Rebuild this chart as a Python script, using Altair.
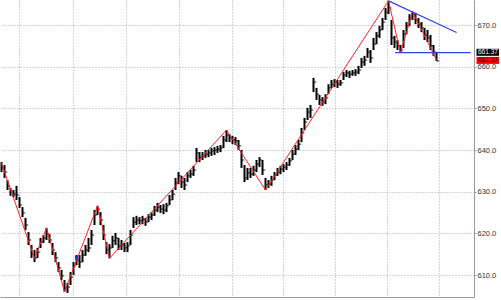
import altair as alt
import pandas as pd

# OHLC-style bars (high / low / close)
high = [637.1, 636.4, 632.8, 630.9, 630.4, 631.4, 628.7, 626.3, 623.7, 620.3,
        617.2, 616.0, 616.5, 618.9, 619.6, 621.3, 619.8, 617.7, 615.5, 613.1,
        611.2, 608.8, 608.1, 610.7, 613.1, 614.8, 614.8, 616.0, 617.2, 618.9,
        620.8, 625.6, 626.6, 625.1, 622.0, 617.9, 617.4, 619.4, 620.1, 618.9,
        618.4, 617.7, 617.9, 620.8, 623.9, 624.2, 623.9, 624.2, 623.7, 624.6,
        625.1, 626.6, 627.3, 626.8, 627.0, 627.3, 629.2, 630.4, 633.3, 634.7,
        633.8, 633.3, 634.7, 635.2, 636.2, 640.5, 639.5, 639.5, 640.0, 640.0,
        640.5, 640.7, 641.0, 641.2, 643.4, 644.8, 643.8, 643.4, 643.1, 642.4,
        640.0, 636.4, 635.7, 635.7, 636.2, 637.6, 638.3, 637.6, 633.3, 632.8,
        633.8, 634.7, 635.7, 636.2, 636.6, 637.1, 638.1, 640.0, 641.2, 642.4,
        645.3, 647.7, 650.1, 650.8, 657.3, 654.9, 653.2, 652.7, 653.4, 655.8,
        656.8, 657.0, 656.8, 656.8, 658.7, 659.2, 659.0, 659.2, 659.4, 660.2,
        662.1, 662.6, 664.5, 664.0, 666.9, 668.3, 669.8, 671.7, 674.1, 675.8,
        671.2, 667.4, 666.4, 665.2, 668.8, 670.7, 672.6, 673.2, 672.9, 671.7,
        670.7, 669.3, 668.8, 667.6, 665.2, 663.5]
low = [634.7, 633.3, 630.4, 629.0, 628.7, 628.0, 626.1, 623.9, 620.8, 617.2,
       614.1, 613.1, 614.1, 616.5, 617.7, 618.4, 617.7, 614.8, 613.1, 610.7,
       608.8, 606.0, 605.7, 607.6, 610.0, 612.4, 611.7, 613.1, 614.6, 615.5,
       617.2, 622.0, 624.4, 622.0, 618.4, 615.0, 614.0, 616.5, 617.2, 616.0,
       616.0, 615.5, 615.5, 617.2, 621.3, 622.0, 622.2, 622.2, 621.8, 622.7,
       623.2, 624.2, 625.1, 624.9, 624.6, 625.1, 626.8, 628.0, 630.4, 631.8,
       630.9, 630.4, 632.3, 633.3, 633.8, 637.1, 637.1, 637.6, 638.1, 638.3,
       638.6, 638.8, 639.3, 639.5, 640.5, 641.9, 641.9, 641.4, 641.2, 640.0,
       635.7, 632.3, 632.8, 633.3, 633.8, 634.7, 635.9, 634.0, 630.4, 630.9,
       631.4, 632.8, 633.8, 634.2, 634.7, 635.2, 636.2, 637.6, 638.8, 640.0,
       641.9, 644.8, 647.2, 647.7, 653.9, 652.0, 650.8, 650.6, 651.0, 653.4,
       654.9, 655.1, 654.9, 655.4, 656.8, 657.5, 657.3, 657.8, 657.8, 658.2,
       659.7, 660.2, 662.1, 660.9, 664.0, 665.4, 666.9, 668.8, 671.2, 672.6,
       665.2, 664.5, 664.0, 663.3, 664.5, 667.8, 669.8, 671.2, 670.2, 669.3,
       668.3, 666.4, 665.9, 664.0, 662.6, 661.37]
close = [635.7, 634.7, 631.4, 629.9, 629.4, 629.2, 626.8, 624.9, 622.0, 618.4,
         615.0, 614.1, 615.5, 617.9, 618.9, 619.8, 618.4, 616.0, 614.1, 611.7,
         609.8, 606.9, 607.1, 609.5, 612.2, 613.6, 613.1, 614.8, 616.0, 616.5,
         619.6, 624.4, 625.8, 623.2, 619.6, 616.0, 616.5, 618.2, 618.9, 617.0,
         617.2, 616.5, 617.0, 619.6, 622.7, 623.2, 623.0, 623.4, 622.7, 623.9,
         624.4, 625.6, 626.3, 625.8, 625.6, 626.6, 628.0, 629.4, 632.1, 633.8,
         632.3, 631.6, 633.8, 634.2, 635.2, 639.3, 638.3, 638.6, 639.0, 639.3,
         639.8, 640.0, 640.2, 640.5, 642.4, 643.6, 642.9, 642.4, 642.2, 641.0,
         637.6, 633.3, 634.5, 634.2, 635.2, 636.6, 637.6, 635.2, 631.6, 631.8,
         632.8, 634.0, 634.7, 635.4, 635.9, 636.4, 637.4, 639.0, 640.2, 641.4,
         644.1, 646.7, 649.1, 649.6, 656.3, 653.4, 652.0, 651.5, 652.5, 654.9,
         655.8, 656.3, 655.8, 656.1, 658.0, 658.5, 658.2, 658.5, 658.7, 659.2,
         661.1, 661.6, 663.5, 662.1, 665.4, 667.4, 668.8, 670.7, 673.1, 674.1,
         666.9, 665.9, 665.0, 664.0, 667.8, 669.8, 671.7, 672.6, 671.2, 670.2,
         669.3, 667.6, 666.9, 665.0, 663.5, 661.37]

# ZigZag (red)
zz_bar = [0, 11, 15, 21, 32, 36, 75, 88, 129, 133, 137, 145]
zz_price = [636.8, 614.0, 621.3, 606.0, 626.6, 614.0, 644.8, 630.4, 675.8, 663.3, 673.2, 661.6]

# Blue trend lines
trend_bar = [129, 151.7]
trend_price = [675.8, 668.2]
hline_bar = [131.2, 156.4]
hline_price = [663.35, 663.35]

# small blue marker
marker_bar = [25]
marker_price = [614.2]

# price tags on the right
tag_price = [663.45, 661.5]
tag_text = ["661.37", "661.37"]

# axis values
y_ticks = [610, 620, 630, 640, 650, 660, 670]
x_grid = [5.83, 14.73, 23.73, 32.6, 41.5, 50.4, 59.27, 68.17, 76.83, 85.27,
          93.73, 102.6, 111.27, 119.73, 128.4, 137.27, 145.73, 154.6]

bars = pd.DataFrame({"i": list(range(len(close))), "high": high, "low": low, "close": close})
zz = pd.DataFrame({"i": zz_bar, "p": zz_price})
trend = pd.DataFrame({"i": trend_bar, "p": trend_price})
hline = pd.DataFrame({"i": hline_bar, "p": hline_price})
marker = pd.DataFrame({"i": marker_bar, "p": marker_price})
tag_black = pd.DataFrame({"p": [tag_price[0]], "t": [tag_text[0]]})
tag_red = pd.DataFrame({"p": [tag_price[1]], "t": [tag_text[1]]})

xs = alt.Scale(domain=[-0.5, 157.5], nice=False, zero=False)
ys = alt.Scale(domain=[604.72, 676], nice=False, zero=False)

x_axis = alt.Axis(values=x_grid, labels=False, ticks=False, title=None, domain=True,
                  domainColor="#9a9a9a", grid=True, gridColor="#a8a8a8",
                  gridDash=[1, 2], gridWidth=1)
y_axis = alt.Axis(orient="right", values=y_ticks, format=".1f", title=None,
                  labelFont="Liberation Sans", labelFontSize=7.5, labelColor="#333333",
                  labelPadding=1, tickSize=2, tickColor="#9a9a9a", domain=True,
                  domainColor="#9a9a9a", grid=True, gridColor="#a8a8a8",
                  gridDash=[1, 2], gridWidth=1)

bar_rules = alt.Chart(bars).mark_rule(color="black", strokeWidth=2).encode(
    x=alt.X("i:Q", scale=xs, axis=x_axis),
    y=alt.Y("low:Q", scale=ys, axis=y_axis),
    y2="high:Q",
)
close_ticks = alt.Chart(bars).mark_tick(orient="horizontal", size=2.5, thickness=1.2,
                                        xOffset=1.5, color="black").encode(
    x=alt.X("i:Q", title=None), y=alt.Y("close:Q", title=None)
)
zz_line = alt.Chart(zz).mark_line(color="#ff2020", strokeWidth=1).encode(
    x=alt.X("i:Q", title=None), y=alt.Y("p:Q", title=None)
)
trend_line = alt.Chart(trend).mark_line(color="#3344ee", strokeWidth=1.2).encode(
    x=alt.X("i:Q", title=None), y=alt.Y("p:Q", title=None)
)
h_line = alt.Chart(hline).mark_line(color="#3344ee", strokeWidth=1.2).encode(
    x=alt.X("i:Q", title=None), y=alt.Y("p:Q", title=None)
)
mark_pt = alt.Chart(marker).mark_square(color="#2233dd", size=10, opacity=1).encode(
    x=alt.X("i:Q", title=None), y=alt.Y("p:Q", title=None)
)
black_box = alt.Chart(tag_black).mark_rule(color="black", strokeWidth=7, strokeCap="butt").encode(
    x=alt.value(476.5), x2=alt.value(499), y=alt.Y("p:Q", title=None)
)
black_txt = alt.Chart(tag_black).mark_text(align="left", baseline="middle",
                                           font="Liberation Sans", fontSize=6.5,
                                           color="white").encode(
    x=alt.value(478), y=alt.Y("p:Q", title=None), text="t:N"
)
red_box = alt.Chart(tag_red).mark_rule(color="#ff0000", strokeWidth=7, strokeCap="butt").encode(
    x=alt.value(476.5), x2=alt.value(499), y=alt.Y("p:Q", title=None)
)
red_txt = alt.Chart(tag_red).mark_text(align="left", baseline="middle",
                                       font="Liberation Sans", fontSize=6.5,
                                       color="#111111").encode(
    x=alt.value(478), y=alt.Y("p:Q", title=None), text="t:N"
)

chart = alt.layer(
    bar_rules, close_ticks, zz_line, trend_line, h_line, mark_pt,
    black_box, black_txt, red_box, red_txt
).properties(
    width=474, height=297,
    autosize=alt.AutoSizeParams(type="none"),
    padding={"left": 0, "top": 0, "right": 27, "bottom": 3},
    background="white",
).configure_view(stroke=None)

chart.save("out.html", embed_options={"renderer": "svg", "actions": False})
